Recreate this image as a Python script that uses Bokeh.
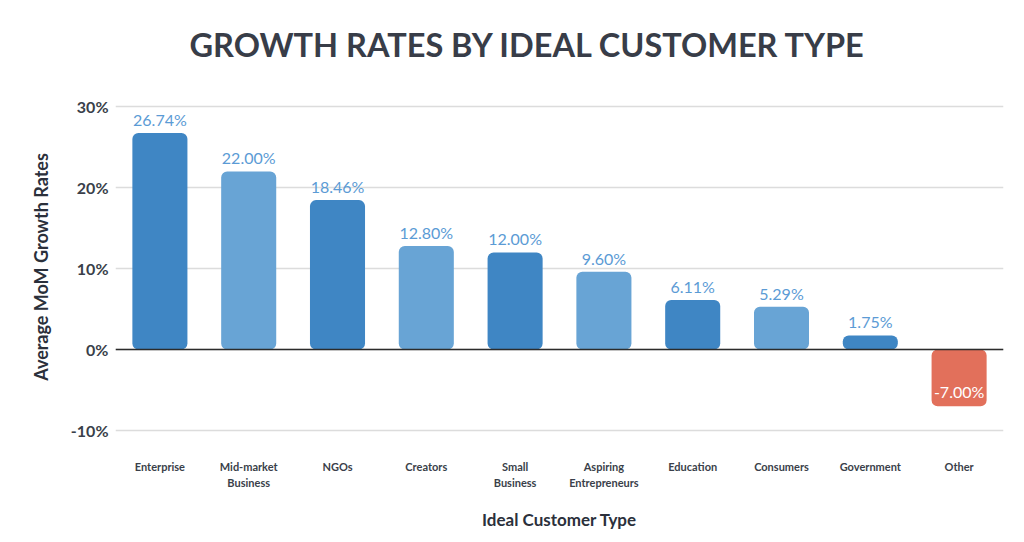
from bokeh.plotting import figure
from bokeh.models import ColumnDataSource, FactorRange, Range1d, FixedTicker, CustomJSTickFormatter, Span, Title, CategoricalAxis, CategoricalTicker
from bokeh.embed import file_html
from bokeh.resources import INLINE
from bokeh.core.properties import value

title_text = "GROWTH RATES BY IDEAL CUSTOMER TYPE"
categories = ["Enterprise", "Mid-market Business", "NGOs", "Creators", "Small Business",
              "Aspiring Entrepreneurs", "Education", "Consumers", "Government", "Other"]
tick_line1 = ["Enterprise", "Mid-market", "NGOs", "Creators", "Small",
              "Aspiring", "Education", "Consumers", "Government", "Other"]
tick_line2 = ["", "Business", "", "", "Business",
              "Entrepreneurs", "", "", "", ""]
growth = [26.74, 22.00, 18.46, 12.80, 12.00, 9.60, 6.11, 5.29, 1.75, -7.00]
y_ticks = [-10, 0, 10, 20, 30]

DARK = "#3f86c4"
LIGHT = "#68a4d5"
RED = "#e2705b"
colors = [RED if v < 0 else (DARK if i % 2 == 0 else LIGHT) for i, v in enumerate(growth)]
labels = ["%.2f%%" % v for v in growth]

FONT = "Lato"
Y0, Y1 = -11.6, 32

p = figure(width=1008, height=532, x_range=FactorRange(*categories, range_padding=0),
           y_range=Range1d(Y0, Y1), output_backend="svg", toolbar_location=None,
           min_border_left=115, min_border_right=5, min_border_bottom=89, min_border_top=89)
p.outline_line_color = None
p.background_fill_color = "white"

t = Title(text=title_text, align="left", offset=74, vertical_align="top",
          text_font=FONT, text_font_size="32.5px", text_font_style="bold",
          text_color="#383d48", standoff=49)
p.add_layout(t, "above")

src = ColumnDataSource(dict(cat=categories, val=growth, color=colors,
                            ytop=[max(v, 0) for v in growth], ybot=[min(v, 0) for v in growth]))
p.vbar(x="cat", top="ytop", bottom="ybot", width=0.62, fill_color="color", line_color=None,
       source=src, border_radius=6)

pos = ColumnDataSource(dict(cat=[c for c, v in zip(categories, growth) if v >= 0],
                            val=[v for v in growth if v >= 0],
                            lab=[l for l, v in zip(labels, growth) if v >= 0]))
neg = ColumnDataSource(dict(cat=[c for c, v in zip(categories, growth) if v < 0],
                            val=[v for v in growth if v < 0],
                            lab=[l for l, v in zip(labels, growth) if v < 0]))
p.text(x="cat", y="val", text="lab", source=pos, text_align="center", text_baseline="bottom",
       y_offset=-4, text_font=value(FONT), text_font_size="16px", text_color="#5b9bd5")
p.text(x="cat", y="val", text="lab", source=neg, text_align="center", text_baseline="bottom",
       y_offset=-5, text_font=value(FONT), text_font_size="16px", text_color="#ffffff")

p.add_layout(Span(location=0, dimension="width", line_color="#2b2b2b", line_width=1.5))

p.xgrid.grid_line_color = None
p.ygrid.grid_line_color = "#dcdcdc"
p.ygrid.grid_line_width = 1.5
p.yaxis.ticker = FixedTicker(ticks=y_ticks)
p.yaxis.formatter = CustomJSTickFormatter(code="return tick + '%';")

# second category axis carries the second line of the tick labels
xaxis2 = CategoricalAxis(ticker=CategoricalTicker())
p.add_layout(xaxis2, "below")

def style(ax):
    ax.axis_line_color = None
    ax.major_tick_line_color = None
    ax.minor_tick_line_color = None
    ax.major_tick_out = 0
    ax.major_tick_in = 0
    ax.major_label_text_font = FONT
    ax.major_label_text_font_style = "bold"
    ax.major_label_text_color = "#3a3f4a"
    ax.axis_label_text_font = FONT
    ax.axis_label_text_font_style = "bold"
    ax.axis_label_text_color = "#2b303b"

style(p.yaxis[0])
style(p.xaxis[0])
style(xaxis2)

p.yaxis.major_label_text_font_size = "16px"
p.yaxis.major_label_standoff = 7
p.yaxis.axis_label = "Average MoM Growth Rates"
p.yaxis.axis_label_text_font_size = "18px"
p.yaxis.axis_label_standoff = 16

fmt_code = "const i = cats.indexOf(tick); return i >= 0 ? labs[i] : '';"
ax1 = p.xaxis[0]
ax1.formatter = CustomJSTickFormatter(args=dict(cats=categories, labs=tick_line1), code=fmt_code)
ax1.major_label_text_font_size = "11px"
ax1.major_label_standoff = 16

xaxis2.formatter = CustomJSTickFormatter(args=dict(cats=categories, labs=tick_line2), code=fmt_code)
xaxis2.major_label_text_font_size = "11px"
xaxis2.major_label_standoff = 0
xaxis2.axis_label = "Ideal Customer Type"
xaxis2.axis_label_text_font_size = "17px"
xaxis2.axis_label_standoff = 17

open("out.html", "w").write(file_html(p, INLINE))
